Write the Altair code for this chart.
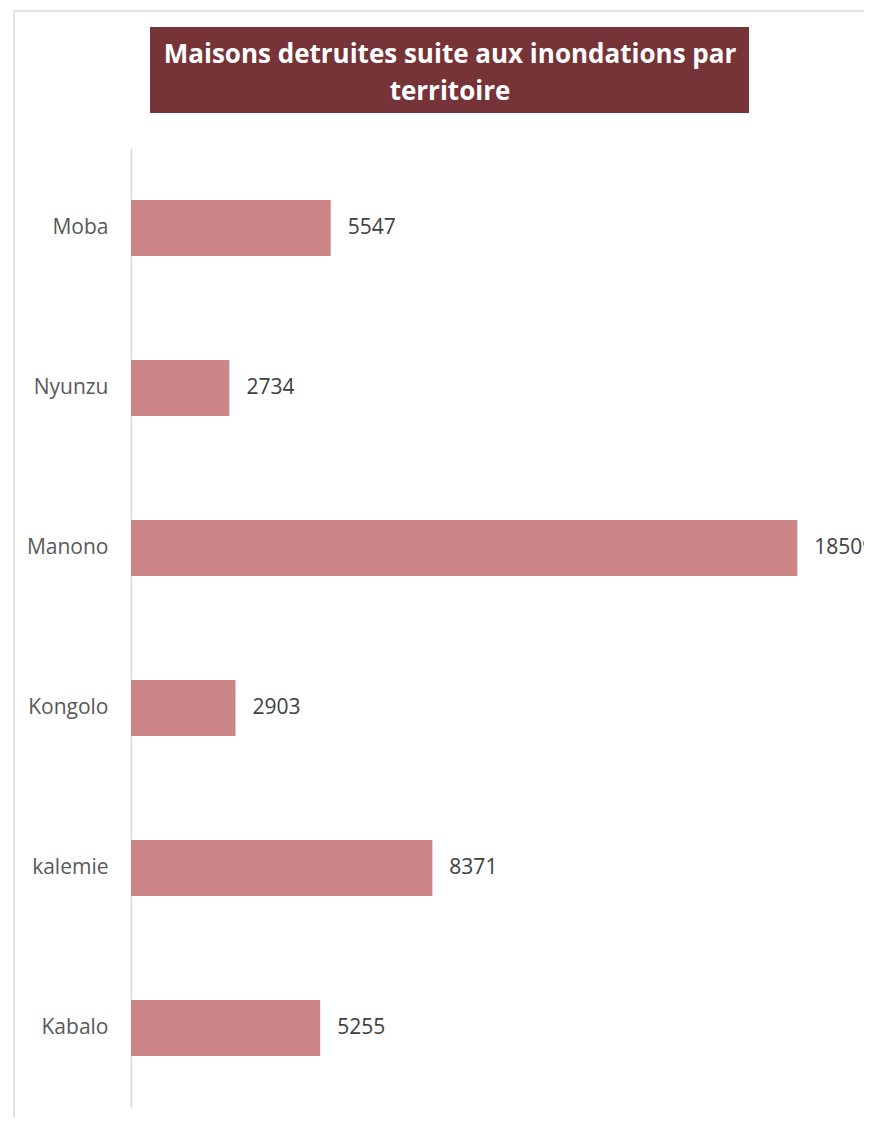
import altair as alt
import pandas as pd

territories = ["Moba", "Nyunzu", "Manono", "Kongolo", "kalemie", "Kabalo"]
houses = [5547, 2734, 18509, 2903, 8371, 5255]
title_lines = ["Maisons detruites suite aux inondations par", "territoire"]

df = pd.DataFrame({"territoire": territories, "maisons": houses})
title_df = pd.DataFrame({"text": ["\n".join(title_lines)]})
one = pd.DataFrame({"k": [0]})

W, H = 720, 960
PAD = {"left": 123, "top": 140, "right": 13, "bottom": 10}

y = alt.Y(
    "territoire:N",
    sort=territories,
    scale=alt.Scale(paddingInner=0.65, paddingOuter=0.325),
    axis=alt.Axis(
        title=None, ticks=False, labelPadding=23, labelFont="Open Sans",
        labelFontSize=21, labelColor="#595959", domainColor="#D9D9D9",
        domainWidth=1.5, labelAlign="right", grid=False,
    ),
)
x = alt.X("maisons:Q", scale=alt.Scale(domain=[0, 20000]), axis=None)

border_left = alt.Chart(one).mark_rule(color="#D9D9D9", strokeWidth=1.5).encode(
    x=alt.value(-117), y=alt.value(-137), y2=alt.value(H + PAD["bottom"])
)
border_top = alt.Chart(one).mark_rule(color="#D9D9D9", strokeWidth=1.5).encode(
    x=alt.value(-117), x2=alt.value(W + PAD["right"]), y=alt.value(-137)
)

title_box = alt.Chart(one).mark_rect(color="#763438").encode(
    x=alt.value(19), x2=alt.value(618), y=alt.value(-121), y2=alt.value(-35)
)

title_text = alt.Chart(title_df).mark_text(
    font="Open Sans", fontWeight="bold", fontSize=26, color="white",
    align="center", baseline="alphabetic", lineBreak="\n", lineHeight=37,
).encode(x=alt.value(319), y=alt.value(-85), text="text:N")

bars = alt.Chart(df).mark_bar(color="#CC8687").encode(x=x, y=y)
labels = alt.Chart(df).mark_text(
    align="left", baseline="middle", dx=17, font="Open Sans",
    fontSize=21, color="#404040",
).encode(x=x, y=y, text=alt.Text("maisons:Q", format="d"))

chart = alt.layer(border_left, border_top, title_box, title_text, bars, labels).properties(
    width=W, height=H, padding=PAD, autosize="none", background="white",
).configure_view(stroke=None)

chart.save("out.html", embed_options={"renderer": "svg", "actions": False})
